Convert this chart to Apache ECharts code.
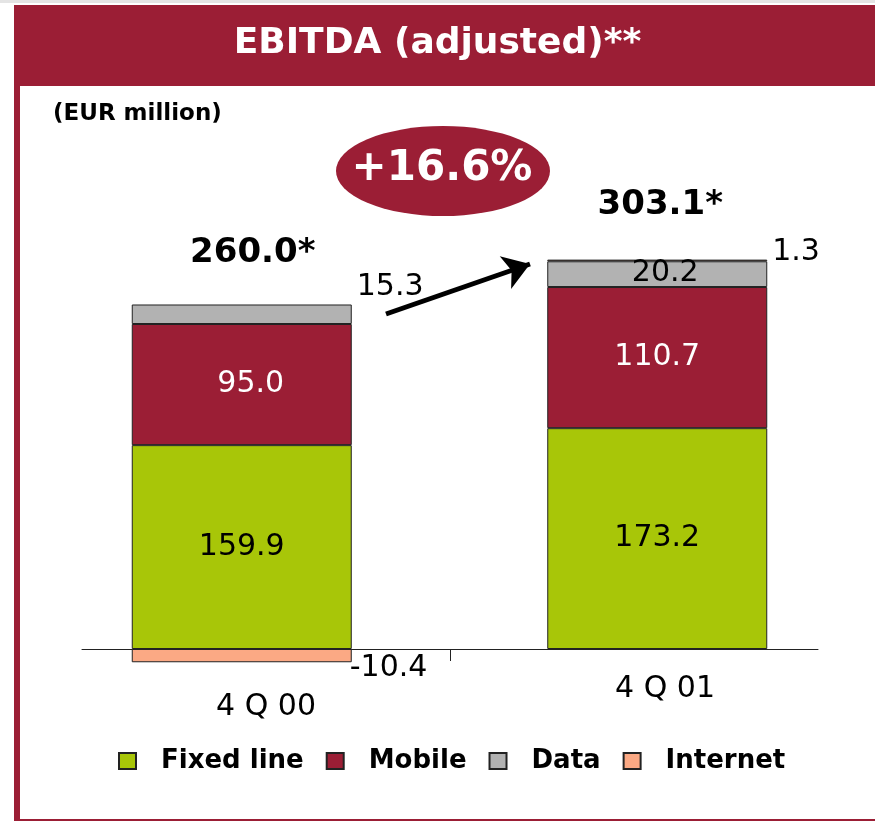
<!DOCTYPE html>
<html>
<head>
<meta charset="utf-8">
<script src="https://cdn.jsdelivr.net/npm/echarts@6/dist/echarts.min.js"></script>
<style>
html, body { margin: 0; padding: 0; background: #fff; }
#main { width: 875px; height: 823px; }
</style>
</head>
<body>
<div id="main"></div>
<script>
// 数据
var categories = ['4 Q 00', '4 Q 01'];
var fixedLine = [159.9, 173.2];
var mobile = [95.0, 110.7];
var dataSeg = [15.3, 20.2];
var internet = [-10.4, 1.3];
var totals = [260.0, 303.1];
var growth = '+16.6%';

var RED = '#9B1E35';
var FONT = 'DejaVu Sans';

// 正值堆叠的顶部, 用来放总数标签
var stackTop = categories.map(function (c, i) {
    return [fixedLine[i], mobile[i], dataSeg[i], internet[i]]
        .filter(function (v) { return v > 0; })
        .reduce(function (a, b) { return a + b; }, 0);
});

var myChart = echarts.init(document.getElementById('main'));

var barBase = {
    type: 'bar',
    stack: 'total',
    xAxisIndex: 0,
    yAxisIndex: 0,
    barWidth: 220,
    itemStyle: { borderColor: '#222', borderWidth: 1 },
    label: {
        show: true,
        position: 'inside',
        color: '#000',
        fontSize: 30,
        fontFamily: FONT,
        formatter: function (p) { return (+p.value).toFixed(1); }
    }
};

var option = {
    animation: false,
    textStyle: { fontFamily: FONT, color: '#000' },
    title: [
        {
            text: 'EBITDA (adjusted)**',
            left: 'center',
            top: 26,
            padding: 0,
            textStyle: { color: '#fff', fontSize: 36, fontWeight: 'bold', fontFamily: FONT }
        },
        {
            text: '(EUR million)',
            left: 53,
            top: 103,
            padding: 0,
            textStyle: { color: '#000', fontSize: 23, fontWeight: 'bold', fontFamily: FONT }
        }
    ],
    graphic: [
        { type: 'rect', z: 0, shape: { x: 0, y: 0, width: 875, height: 3 }, style: { fill: '#e4e4e4' } },
        { type: 'rect', z: 0, shape: { x: 14, y: 5, width: 861, height: 81 }, style: { fill: RED } },
        { type: 'rect', z: 0, shape: { x: 14, y: 86, width: 6, height: 735 }, style: { fill: RED } },
        { type: 'rect', z: 0, shape: { x: 14, y: 819, width: 861, height: 2 }, style: { fill: RED } },
        {
            type: 'circle', z: 0, x: 443, y: 171, scaleX: 107 / 45,
            shape: { cx: 0, cy: 0, r: 45 }, style: { fill: RED }
        },
        {
            type: 'text', z: 100, x: 442, y: 169,
            style: {
                text: growth, fill: '#fff', font: 'bold 42px "DejaVu Sans"',
                textAlign: 'center', textVerticalAlign: 'middle'
            }
        }
    ],
    legend: {
        data: ['Fixed line', 'Mobile', 'Data', 'Internet'],
        left: 118,
        top: 748,
        padding: 0,
        icon: 'rect',
        itemWidth: 17,
        itemHeight: 16,
        itemGap: 22,
        selectedMode: false,
        textStyle: { color: '#000', fontSize: 26, fontWeight: 'bold', fontFamily: FONT, padding: [0, 0, 0, 20] }
    },
    grid: [
        { left: 34, right: 10, top: 241, height: 459 },
        { left: 82, right: 57, top: 241, height: 408 }
    ],
    xAxis: [
        {
            type: 'category',
            gridIndex: 0,
            data: categories,
            axisLine: { show: false },
            axisTick: { show: false },
            axisLabel: { show: false }
        },
        {
            // 横轴线, 中间一个刻度, 类目名在这里
            type: 'value',
            gridIndex: 1,
            min: 0,
            max: 2,
            interval: 1,
            axisLine: { show: true, lineStyle: { color: '#222', width: 1 } },
            axisTick: { show: true, customValues: [1], length: 12, lineStyle: { color: '#222' } },
            axisLabel: {
                show: true,
                customValues: [0.5, 1.5],
                margin: 0,
                formatter: function (v) {
                    var i = Math.floor(v);
                    return (i === 0 ? '{a|' : '{b|') + categories[i] + '}';
                },
                rich: {
                    a: { fontSize: 30, color: '#000', fontFamily: FONT, padding: [43, 0, 0, 0] },
                    b: { fontSize: 30, color: '#000', fontFamily: FONT, padding: [25, 0, 0, 62] }
                }
            },
            splitLine: { show: false }
        }
    ],
    yAxis: [
        { type: 'value', gridIndex: 0, min: -40, max: 320, show: false },
        { type: 'value', gridIndex: 1, min: 0, max: 320, show: false }
    ],
    series: [
        Object.assign({}, barBase, {
            name: 'Fixed line',
            itemStyle: { color: '#A8C608', borderColor: '#222', borderWidth: 1 },
            data: fixedLine
        }),
        Object.assign({}, barBase, {
            name: 'Mobile',
            itemStyle: { color: RED, borderColor: '#222', borderWidth: 1 },
            label: Object.assign({}, barBase.label, { color: '#fff' }),
            data: mobile.map(function (v, i) {
                return i === 0 ? { value: v, label: { offset: [9, 0] } } : v;
            })
        }),
        Object.assign({}, barBase, {
            name: 'Data',
            itemStyle: { color: '#B2B2B2', borderColor: '#222', borderWidth: 1 },
            data: dataSeg.map(function (v, i) {
                return i === 0
                    ? { value: v, label: { position: 'right', distance: 5, offset: [0, -27] } }
                    : { value: v, label: { offset: [8, -1] } };
            })
        }),
        Object.assign({}, barBase, {
            name: 'Internet',
            itemStyle: { color: '#FBA984', borderColor: '#222', borderWidth: 1 },
            data: internet.map(function (v, i) {
                return i === 0
                    ? { value: v, label: { position: 'right', distance: 0, offset: [-2, 13] } }
                    : { value: v, label: { position: 'right', distance: 5, offset: [0, -8] } };
            })
        }),
        {
            // 总数标签 + 箭头 (scatter 默认 opacity 0.8, 这里改成 1)
            type: 'scatter',
            name: 'total',
            xAxisIndex: 0,
            yAxisIndex: 0,
            symbolSize: 0,
            silent: true,
            itemStyle: { color: '#000', opacity: 1 },
            data: stackTop.map(function (v, i) {
                return { value: v, label: { offset: i === 0 ? [11, -34] : [3, -37] } };
            }),
            label: {
                show: true,
                position: 'top',
                distance: 0,
                formatter: function (p) { return '{t|' + totals[p.dataIndex].toFixed(1) + '*}'; },
                rich: {
                    t: { color: '#000', fontSize: 34, fontWeight: 'bold', fontFamily: FONT }
                }
            },
            markLine: {
                silent: true,
                symbol: ['none', 'arrow'],
                symbolSize: 26,
                label: { show: false },
                lineStyle: { color: '#000', width: 5, type: 'solid', opacity: 1 },
                data: [[{ x: 386, y: 314 }, { x: 530, y: 264 }]]
            }
        }
    ]
};

myChart.setOption(option);
</script>
</body>
</html>
